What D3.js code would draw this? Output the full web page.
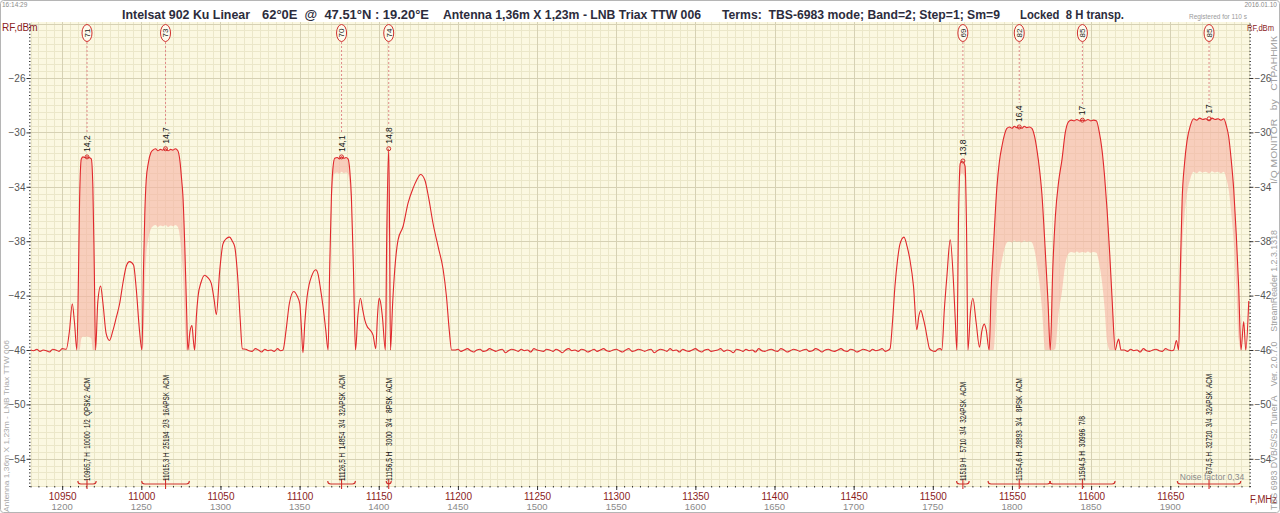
<!DOCTYPE html>
<html>
<head>
<meta charset="utf-8">
<script src="https://d3js.org/d3.v7.min.js"></script>
<style>
  body { margin: 0; background: #fff; }
  svg { display: block; font-family: "Liberation Sans", Arial, sans-serif; }
</style>
</head>
<body>
<div id="chart"></div>
<script>
let width = 1280,
  height = 513;

// ---- data ----
// axis ticks
const freqTicks = [10950, 11000, 11050, 11100, 11150, 11200, 11250, 11300, 11350, 11400, 11450, 11500, 11550, 11600, 11650];
const ifTickLabels = ['1200', '1250', '1300', '1350', '1400', '1450', '1500', '1550', '1600', '1650', '1700', '1750', '1800', '1850', '1900'];
const levelTicks = [-26, -30, -34, -38, -42, -46, -50, -54];

// noise floor stretches: start MHz, 2 MHz apart
const noiseStep = 2;
const noiseAStart = 10930;
const noiseA = [-46.0, -46.05, -45.95, -46.1, -46.0, -46.05, -46.15, -45.95, -46.0, -46.1, -45.9];
const noiseBStart = 11066;
const noiseB = [-45.95, -46.05, -46.1, -45.9, -46.0, -46.15, -45.95, -46.05, -46.0, -46.1, -45.9, -46.05];
const noiseCStart = 11198;
const noiseC = [
  -46.0, -45.95, -46.1, -46.0, -45.9, -46.05, -46.15, -46.0, -45.95, -46.1,
  -46.05, -45.9, -46.0, -46.1, -46.0, -45.95, -46.2, -46.05, -45.95, -46.0,
  -46.1, -45.95, -46.05, -46.0, -46.15, -45.9, -46.0, -46.05, -46.1, -45.95,
  -46.0, -46.1, -45.95, -46.05, -46.2, -46.0, -45.9, -46.05, -46.0, -46.1,
  -45.95, -46.0, -46.15, -46.05, -45.95, -46.1, -46.0, -45.9, -46.05, -46.1,
  -46.0, -45.95, -46.05, -46.15, -46.0, -45.9, -46.1, -46.05, -45.95, -46.0,
  -46.1, -46.0, -45.95, -46.2, -46.05, -45.95, -46.0, -46.1, -45.9, -46.05,
  -46.0, -46.15, -45.95, -46.05, -46.1, -46.0, -45.9, -46.05, -46.15, -46.0,
  -45.95, -46.1, -46.05, -46.0, -45.9, -46.1, -46.0, -46.05, -46.2, -45.95,
  -46.0, -46.1, -45.95, -46.05, -46.0, -46.15, -45.9, -46.05, -46.1, -46.0,
  -45.95, -46.05, -46.1, -45.9, -46.0, -46.15, -46.05, -45.95, -46.0, -46.1,
  -46.0, -45.95, -46.1, -46.05, -45.9, -46.0, -46.15, -46.0, -45.95, -46.05,
  -46.1, -46.0, -45.9, -46.05, -46.1, -45.95, -46.0, -46.15, -46.05, -45.95,
  -46.0, -46.1, -45.95, -46.05, -46.0, -45.9, -46.1, -46.0
];
const noiseDStart = 11621;
const noiseD = [-46.0, -46.1, -45.95, -46.05, -46.0, -46.15, -45.9, -46.05, -46.1, -46.0, -45.95, -46.05, -46.1, -45.9, -46.0, -46.05];

// signal stretches [MHz, dBm]
const signalLow = [
  [10952.6, -45.95], [10954.6, -44.6], [10956.4, -42.6], [10957.8, -44.0], [10959.3, -46.0],
  [10960.3, -40.5], [10961.0, -35.0], [10962.1, -31.95], [10963.2, -31.8], [10964.4, -31.85], [10965.7, -31.8],
  [10967.0, -31.85], [10968.4, -31.95], [10969.4, -34.0], [10970.3, -40.0], [10971.1, -46.0],
  [10972.5, -42.5], [10974.3, -41.3], [10975.8, -42.6], [10977.8, -44.8], [10979.9, -45.3], [10982.0, -44.6],
  [10984.2, -43.6], [10986.3, -42.6], [10988.5, -41.0], [10990.6, -39.8], [10992.6, -39.5], [10995.1, -39.75],
  [10996.8, -41.5], [10998.8, -44.5], [11000.4, -46.0],
  [11001.4, -40.0], [11002.2, -36.0], [11003.1, -33.5], [11004.5, -32.2], [11006.0, -31.5], [11007.3, -31.3],
  [11009.0, -31.2], [11010.5, -31.35], [11012.0, -31.25], [11013.5, -31.3], [11015.3, -31.2], [11017.0, -31.35],
  [11018.5, -31.25], [11020.0, -31.3], [11021.5, -31.2], [11023.1, -31.35], [11024.5, -32.2], [11025.5, -33.5],
  [11026.3, -34.7], [11027.5, -38.5], [11028.6, -43.0], [11029.4, -46.0],
  [11030.8, -44.6], [11032.0, -44.2], [11032.9, -45.3], [11033.7, -46.0], [11034.8, -43.5], [11035.8, -42.1],
  [11037.8, -41.0], [11040.0, -40.5], [11042.2, -40.7], [11044.2, -41.1], [11046.0, -42.3], [11047.4, -43.4],
  [11049.5, -40.2], [11051.6, -38.2], [11053.8, -37.8], [11055.8, -37.7], [11057.5, -38.0], [11059.0, -38.4],
  [11060.8, -40.5], [11062.5, -43.8], [11063.8, -45.9]
];
const signalMid = [
  [11089.5, -46.0], [11091.5, -44.5], [11093.5, -42.6], [11096.3, -41.7], [11098.3, -42.0], [11100.1, -42.6],
  [11101.2, -44.5], [11102.1, -46.2], [11103.3, -44.0], [11104.7, -42.1], [11106.0, -41.2], [11107.5, -40.6],
  [11110.2, -40.1], [11111.6, -40.4], [11113.2, -41.5], [11114.8, -42.8], [11116.5, -44.5], [11118.0, -46.0],
  [11119.0, -40.0], [11120.1, -34.7], [11121.0, -32.7], [11122.2, -31.9], [11123.8, -31.85], [11125.2, -31.95],
  [11126.5, -31.8], [11128.0, -31.9], [11129.3, -31.85], [11130.6, -31.95], [11131.7, -32.8], [11132.7, -34.7],
  [11134.0, -40.0], [11135.3, -46.0],
  [11136.8, -43.5], [11138.4, -42.2], [11139.8, -43.0], [11141.2, -43.8], [11142.8, -44.3], [11144.3, -44.5],
  [11146.4, -44.9], [11148.1, -45.9], [11149.2, -43.5], [11150.2, -42.2], [11151.3, -42.6], [11152.3, -43.55],
  [11154.2, -46.0], [11155.0, -38.0], [11156.3, -31.2], [11156.9, -38.0], [11157.4, -46.0],
  [11158.8, -42.5], [11160.1, -40.1], [11162.2, -37.9], [11165.4, -36.9], [11168.5, -35.2], [11171.7, -34.1],
  [11174.0, -33.5], [11176.4, -33.1], [11179.1, -33.5], [11181.5, -34.8], [11184.3, -36.7], [11187.5, -38.4],
  [11190.7, -40.1], [11192.8, -42.1], [11194.5, -44.5], [11196.0, -46.0]
];
const signalHigh = [
  [11473.0, -45.9], [11474.5, -44.0], [11476.1, -41.3], [11477.6, -39.5], [11479.3, -38.2], [11481.8, -37.7],
  [11483.8, -38.4], [11485.6, -39.4], [11487.8, -41.3], [11489.9, -44.5], [11491.2, -43.5], [11492.5, -43.1],
  [11493.8, -43.6], [11495.2, -44.3], [11496.6, -45.2], [11497.9, -45.9], [11499.6, -46.05], [11501.5, -46.1],
  [11503.0, -45.95], [11504.7, -45.9], [11505.7, -46.0], [11507.3, -43.0], [11508.9, -40.6], [11511.0, -37.9],
  [11513.1, -41.1], [11514.2, -43.8], [11515.2, -46.0],
  [11516.3, -36.0], [11517.3, -32.3], [11518.4, -32.1], [11519.4, -32.2], [11520.4, -32.5], [11521.3, -37.0], [11522.2, -46.0],
  [11523.8, -43.2], [11525.3, -42.2], [11527.4, -44.0], [11529.5, -45.8], [11531.0, -44.6], [11532.5, -44.1],
  [11533.7, -44.5], [11535.6, -46.0],
  [11536.9, -41.5], [11538.4, -38.2], [11540.5, -34.0], [11542.0, -32.2], [11543.7, -31.0], [11545.2, -30.2],
  [11546.8, -29.7], [11548.5, -29.6], [11550.0, -29.7], [11551.5, -29.55], [11553.0, -29.65], [11554.6, -29.6],
  [11556.2, -29.7], [11557.8, -29.55], [11559.4, -29.65], [11561.0, -29.6], [11562.6, -29.7], [11564.3, -30.3],
  [11565.8, -31.3], [11567.4, -32.7], [11568.9, -34.5], [11571.0, -38.6], [11572.8, -42.5], [11574.2, -46.0],
  [11575.8, -40.0], [11577.4, -36.2], [11579.5, -33.6], [11581.6, -32.0], [11583.7, -30.0], [11585.8, -29.2],
  [11587.5, -29.1], [11589.3, -29.15], [11591.0, -29.05], [11592.8, -29.15], [11594.5, -29.1], [11596.3, -29.15],
  [11598.0, -29.05], [11599.8, -29.15], [11601.5, -29.1], [11603.3, -29.15], [11605.2, -30.0], [11606.9, -31.3],
  [11608.5, -33.2], [11610.1, -35.7], [11611.8, -39.0], [11613.2, -42.1], [11615.3, -46.0], [11616.4, -45.5],
  [11617.4, -45.2], [11618.9, -46.0]
];
const signalEdge = [
  [11652.2, -46.0], [11653.9, -45.3], [11655.3, -46.0], [11656.4, -40.0], [11657.5, -35.0], [11659.0, -32.3],
  [11660.6, -30.6], [11662.7, -29.5], [11664.8, -29.0], [11666.7, -29.1], [11668.6, -28.95], [11670.5, -29.05],
  [11672.4, -29.0], [11674.5, -29.1], [11676.4, -28.95], [11678.3, -29.05], [11680.2, -29.0], [11682.0, -29.1],
  [11683.8, -29.0], [11685.4, -29.5], [11686.9, -30.3], [11688.5, -32.0], [11690.1, -34.2], [11691.7, -37.5],
  [11693.2, -41.3], [11694.7, -46.0], [11696.4, -43.9], [11697.7, -46.0], [11699.6, -42.4]
];

// locked transponders
const tpNumber = ['71', '73', '70', '74', '69', '82', '85', '85'];
const tpFreq = [10965.7, 11015.3, 11126.5, 11156.3, 11519, 11554.6, 11594.5, 11674.5];
const tpPeak = [-31.8, -31.2, -31.8, -31.2, -32.1, -29.6, -29.1, -29.0];
const tpPeakLabel = ['14,2', '14,7', '14,1', '14,8', '13,8', '16,4', '17', '17'];
const tpFillFloor = [-45.0, -36.8, -32.9, -37.0, -33.0, -38.0, -38.8, -32.9];
const tpBandwidth = [11.6, 30.1, 17.5, 3.2, 8.0, 39.4, 41.3, 40.1];
const tpInfo = [
  '10965,7 H  10000  1/2  QPSK2  ACM',
  '11015,3 H  25194  2/3  16APSK  ACM',
  '11126,5 H  14854  3/4  32APSK  ACM',
  '11156,5 H   3000  3/4   8PSK  ACM',
  '11519 H   5710  3/4  32APSK  ACM',
  '11554,6 H  28893  3/4   8PSK  ACM',
  '11594,5 H  30996  7/8',
  '674,5 H  32720  3/4  32APSK  ACM'
];
const tpInfoLength = [103, 106, 106, 103, 99, 103, 65, 100];

// ---- build the trace ----
function noisePoints(start, values) {
  return values.map(function (v, i) { return [start + i * noiseStep, v]; });
}
let trace = []
  .concat(noisePoints(noiseAStart, noiseA), signalLow, noisePoints(noiseBStart, noiseB), signalMid,
    noisePoints(noiseCStart, noiseC), signalHigh, noisePoints(noiseDStart, noiseD), signalEdge)
  .sort(function (a, b) { return a[0] - b[0]; });

// ---- svg ----
let svg = d3.select('#chart').append('svg')
  .attr('width', width)
  .attr('height', height);

svg.append('rect')
  .attr('x', 0.5).attr('y', 0.5)
  .attr('width', width - 1).attr('height', height - 1)
  .attr('rx', 3)
  .attr('fill', '#fff')
  .attr('stroke', '#b5b5b5');

let x = d3.scaleLinear().domain([10930, 11700]).range([30.5, 1249.4]);
let y = d3.scaleLinear().domain([-56, -22]).range([486, 23.6]);

let plotLeft = x.range()[0], plotRight = x.range()[1];
let plotTop = 22, plotBottom = 486;

// plot background
svg.append('rect')
  .attr('x', plotLeft).attr('y', plotTop)
  .attr('width', plotRight - plotLeft).attr('height', plotBottom - plotTop)
  .attr('fill', '#fbf8e1');

// grid
let grid = svg.append('g').attr('class', 'grid');
grid.selectAll('.vminor')
  .data(d3.range(10930, 11701, 5))
  .enter().append('line')
  .attr('x1', function (d) { return Math.round(x(d)) + 0.5; })
  .attr('x2', function (d) { return Math.round(x(d)) + 0.5; })
  .attr('y1', plotTop).attr('y2', plotBottom)
  .attr('stroke', '#ebe7c9');
grid.selectAll('.hminor')
  .data(d3.range(-56, -21.9, 0.5))
  .enter().append('line')
  .attr('x1', plotLeft).attr('x2', plotRight)
  .attr('y1', function (d) { return Math.round(y(d)) + 0.5; })
  .attr('y2', function (d) { return Math.round(y(d)) + 0.5; })
  .attr('stroke', '#ebe7c9');
grid.selectAll('.vmajor')
  .data(freqTicks)
  .enter().append('line')
  .attr('x1', function (d) { return Math.round(x(d)) + 0.5; })
  .attr('x2', function (d) { return Math.round(x(d)) + 0.5; })
  .attr('y1', plotTop).attr('y2', plotBottom)
  .attr('stroke', '#d6d1b4');
grid.selectAll('.hmajor')
  .data(levelTicks.concat([-22]))
  .enter().append('line')
  .attr('x1', plotLeft).attr('x2', plotRight)
  .attr('y1', function (d) { return Math.round(y(d)) + 0.5; })
  .attr('y2', function (d) { return Math.round(y(d)) + 0.5; })
  .attr('stroke', '#d6d1b4');

// filled part of each locked carrier
let fillArea = d3.area()
  .x(function (d) { return x(d[0]); })
  .y0(function (d) { return y(d[2]); })
  .y1(function (d) { return y(d[1]); })
  .curve(d3.curveMonotoneX);

tpFreq.forEach(function (fc, i) {
  let half = tpBandwidth[i] / 2;
  let drop = tpPeak[i] - tpFillFloor[i];
  let pts = trace
    .filter(function (d) { return d[0] >= fc - half - 0.5 && d[0] <= fc + half + 0.5; })
    .map(function (d) { return [d[0], d[1], Math.min(d[1], Math.max(d[1] - drop, -46))]; });
  svg.append('path')
    .datum(pts)
    .attr('d', fillArea)
    .attr('fill', '#f6b2a4')
    .attr('opacity', 0.6);
});

// spectrum trace
let line = d3.line()
  .x(function (d) { return x(d[0]); })
  .y(function (d) { return y(d[1]); })
  .curve(d3.curveMonotoneX);

svg.append('path')
  .datum(trace)
  .attr('d', line)
  .attr('fill', 'none')
  .attr('stroke', '#e0282c')
  .attr('stroke-width', 1.1);

// axes
function styleAxis(g, color, size) {
  g.select('.domain').remove();
  g.selectAll('.tick line').attr('stroke', '#333');
  g.selectAll('.tick text').attr('fill', color).style('font-size', size + 'px')
    .style('font-family', '"Liberation Sans", Arial, sans-serif');
}

let minorLevels = d3.range(-56, -21.9, 0.25);
let leftDots = svg.append('g').attr('transform', 'translate(' + plotLeft + ',0)')
  .call(d3.axisLeft(y).tickValues(minorLevels).tickSize(1.5).tickFormat(''));
styleAxis(leftDots, '#555', 10);
let leftAxis = svg.append('g').attr('transform', 'translate(' + plotLeft + ',0)')
  .call(d3.axisLeft(y).tickValues(levelTicks).tickSize(4).tickPadding(1).tickFormat(d3.format('d')));
styleAxis(leftAxis, '#555', 10);

let rightDots = svg.append('g').attr('transform', 'translate(' + plotRight + ',0)')
  .call(d3.axisRight(y).tickValues(minorLevels).tickSize(1.5).tickFormat(''));
styleAxis(rightDots, '#555', 10);
let rightAxis = svg.append('g').attr('transform', 'translate(' + plotRight + ',0)')
  .call(d3.axisRight(y).tickValues(levelTicks).tickSize(4).tickPadding(1).tickFormat(d3.format('d')));
styleAxis(rightAxis, '#555', 10);

let bottomDots = svg.append('g').attr('transform', 'translate(0,' + plotBottom + ')')
  .call(d3.axisBottom(x).tickValues(d3.range(10930, 11701, 5)).tickSize(1.5).tickFormat(''));
styleAxis(bottomDots, '#8b1c1c', 10);
let bottomAxis = svg.append('g').attr('transform', 'translate(0,' + plotBottom + ')')
  .call(d3.axisBottom(x).tickValues(freqTicks).tickSize(4).tickPadding(3).tickFormat(d3.format('d')));
styleAxis(bottomAxis, '#8b1c1c', 10);

svg.append('g').selectAll('text')
  .data(freqTicks)
  .enter().append('text')
  .attr('x', function (d) { return x(d); })
  .attr('y', 510)
  .attr('text-anchor', 'middle')
  .attr('fill', '#8a8a8a')
  .style('font-size', '9.5px')
  .text(function (d, i) { return ifTickLabels[i]; });

// axis titles
svg.append('text').attr('x', 2).attr('y', 31).attr('fill', '#8b1c1c').style('font-size', '10px').text('RF,dBm');
svg.append('text').attr('x', 1247).attr('y', 31).attr('fill', '#8b1c1c').style('font-size', '9px')
  .attr('textLength', 27).attr('lengthAdjust', 'spacingAndGlyphs').text('RF,dBm');
svg.append('text').attr('x', 1250).attr('y', 503).attr('fill', '#8b1c1c').style('font-size', '10px')
  .attr('textLength', 27).attr('lengthAdjust', 'spacingAndGlyphs').text('F,MHz');

// transponder brackets at the bottom
let brackets = svg.append('g').attr('stroke', '#d0302c').attr('fill', 'none').attr('stroke-width', 1.1);
tpFreq.forEach(function (fc, i) {
  let x1 = x(fc - tpBandwidth[i] / 2), x2 = x(fc + tpBandwidth[i] / 2), xc = x(fc);
  brackets.append('path')
    .attr('d', 'M' + x1 + ',481 Q' + x1 + ',484 ' + (x1 + 3) + ',484 L' + (x2 - 3) + ',484 Q' + x2 + ',484 ' + x2 + ',481');
  brackets.append('line')
    .attr('x1', xc).attr('x2', xc).attr('y1', 479).attr('y2', 489);
});

// noise factor note
svg.append('text')
  .attr('x', 1212).attr('y', 480)
  .attr('text-anchor', 'middle')
  .attr('fill', '#8a8a8a')
  .style('font-size', '8.5px')
  .text('Noise factor 0,34');

// transponder info, rotated
svg.append('g').selectAll('text')
  .data(tpInfo)
  .enter().append('text')
  .attr('transform', function (d, i) {
    let y0 = i === 7 ? 474 : 481;
    return 'translate(' + x(tpFreq[i]) + ',' + y0 + ') rotate(-90)';
  })
  .attr('dy', '0.35em')
  .attr('fill', '#111')
  .style('font-size', '8.5px')
  .attr('textLength', function (d, i) { return tpInfoLength[i]; })
  .attr('lengthAdjust', 'spacingAndGlyphs')
  .style('white-space', 'pre')
  .text(function (d) { return d; });

// markers at the top, dashed leaders, peak labels
let marks = svg.append('g');
tpFreq.forEach(function (fc, i) {
  let xc = x(fc), py = y(tpPeak[i]);
  let labelLen = tpPeakLabel[i].length * 4.3;
  marks.append('line')
    .attr('x1', xc).attr('x2', xc)
    .attr('y1', 42).attr('y2', py - 7 - labelLen)
    .attr('stroke', '#e08a8a')
    .attr('stroke-dasharray', '2,2');
  marks.append('ellipse')
    .attr('cx', xc).attr('cy', 33)
    .attr('rx', 5).attr('ry', 8.5)
    .attr('fill', '#fdfbee')
    .attr('stroke', '#d0302c');
  marks.append('text')
    .attr('transform', 'translate(' + xc + ',33) rotate(-90)')
    .attr('text-anchor', 'middle')
    .attr('dy', '0.35em')
    .attr('fill', '#222')
    .style('font-size', '8px')
    .text(tpNumber[i]);
  marks.append('text')
    .attr('transform', 'translate(' + xc + ',' + (py - 5) + ') rotate(-90)')
    .attr('dy', '0.35em')
    .attr('fill', '#111')
    .style('font-size', '8.5px')
    .text(tpPeakLabel[i]);
  marks.append('circle')
    .attr('cx', xc).attr('cy', py)
    .attr('r', 2)
    .attr('fill', 'none')
    .attr('stroke', '#d0302c');
});

// title
const titleParts = [
  ['Intelsat 902 Ku Linear', 122, 128],
  ['62\u00b00E  @  47.51\u00b0N : 19.20\u00b0E', 262, 167],
  ['Antenna 1,36m X 1,23m - LNB Triax TTW 006', 443, 258],
  ['Terms:  TBS-6983 mode; Band=2; Step=1; Sm=9', 722, 278],
  ['Locked  8 H transp.', 1020, 104]
];
svg.append('g').selectAll('text')
  .data(titleParts)
  .enter().append('text')
  .attr('x', function (d) { return d[1]; })
  .attr('y', 19)
  .attr('fill', '#2c2c3c')
  .style('font-size', '13.5px')
  .style('font-weight', 'bold')
  .style('white-space', 'pre')
  .attr('textLength', function (d) { return d[2]; })
  .attr('lengthAdjust', 'spacingAndGlyphs')
  .text(function (d) { return d[0]; });

// small captions
svg.append('text').attr('x', 2).attr('y', 7).attr('fill', '#8a8a8a').style('font-size', '6.5px').text('16:14:29');
svg.append('text').attr('x', 1277).attr('y', 7).attr('text-anchor', 'end').attr('fill', '#8a8a8a').style('font-size', '6.5px').text('2016.01.10');
svg.append('text').attr('x', 1247).attr('y', 19).attr('text-anchor', 'end').attr('fill', '#9a9a9a').style('font-size', '6.5px').text('Registered for 110 s');

svg.append('text')
  .attr('transform', 'translate(6,512) rotate(-90)')
  .attr('dy', '0.35em')
  .attr('fill', '#a8a8a8')
  .style('font-size', '8px')
  .attr('textLength', 172)
  .attr('lengthAdjust', 'spacingAndGlyphs')
  .text('Antenna 1,36m X 1,23m - LNB Triax TTW 006');

svg.append('text')
  .attr('transform', 'translate(1274,184) rotate(-90)')
  .attr('dy', '0.35em')
  .attr('fill', '#a0a0a0')
  .style('font-size', '9px')
  .style('white-space', 'pre')
  .attr('textLength', 148)
  .attr('lengthAdjust', 'spacingAndGlyphs')
  .text('I/Q MONITOR   by   \u0421\u0422\u0420\u0410\u041d\u041d\u0418\u041a');

svg.append('text')
  .attr('transform', 'translate(1274,510) rotate(-90)')
  .attr('dy', '0.35em')
  .attr('fill', '#a0a0a0')
  .style('font-size', '8.5px')
  .style('white-space', 'pre')
  .attr('textLength', 280)
  .attr('lengthAdjust', 'spacingAndGlyphs')
  .text('TBS 6983 DVB/S/S2 Tuner A    Ver. 2.0.7.0    StreamReader 1.2.3.1318');
</script>
</body>
</html>
